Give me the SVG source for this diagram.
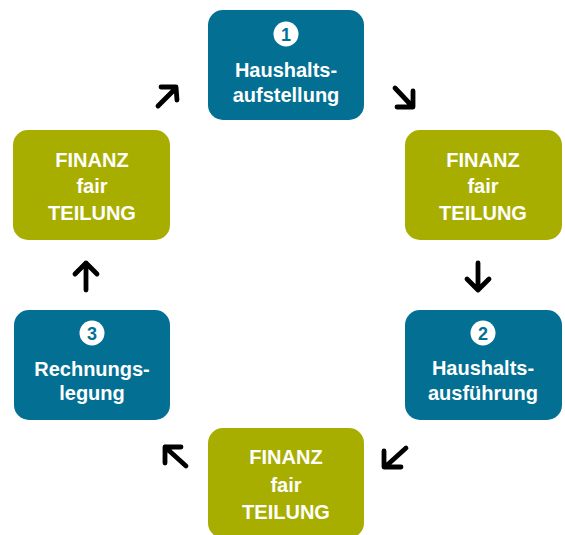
<svg xmlns="http://www.w3.org/2000/svg" width="565" height="535" viewBox="0 0 565 535">
<defs>
<style>
.blue{fill:#037093}
.green{fill:#A8AE00}
.t{font-family:"Liberation Sans",Arial,sans-serif;font-weight:bold;font-size:20px;fill:#ffffff;text-anchor:middle}
.num{font-family:"Liberation Sans",Arial,sans-serif;font-weight:bold;font-size:18px;fill:#037093;text-anchor:middle}
.arr{fill:none;stroke:#000000;stroke-width:4.8;stroke-linecap:round;stroke-linejoin:round}
</style>
</defs>
<rect width="565" height="535" fill="#ffffff"/>
<g id="node-haushaltsaufstellung">
<rect class="blue" x="208" y="10" width="156" height="110" rx="15"/>
<circle cx="286" cy="34" r="12.5" fill="#ffffff"/>
<text class="num" x="286" y="40.5">1</text>
<text class="t" x="286" y="77">Haushalts-</text>
<text class="t" x="286" y="102">aufstellung</text>
</g>
<g id="node-finanz-right">
<rect class="green" x="405" y="130" width="157" height="110" rx="15"/>
<text class="t" x="483" y="167">FINANZ</text>
<text class="t" x="483" y="193">fair</text>
<text class="t" x="483" y="220">TEILUNG</text>
</g>
<g id="node-haushaltsausfuehrung">
<rect class="blue" x="405" y="310" width="157" height="110" rx="15"/>
<circle cx="483" cy="333" r="12.5" fill="#ffffff"/>
<text class="num" x="483" y="339.5">2</text>
<text class="t" x="483" y="375">Haushalts-</text>
<text class="t" x="483" y="400">ausführung</text>
</g>
<g id="node-finanz-bottom">
<rect class="green" x="208" y="428" width="156" height="110" rx="15"/>
<text class="t" x="286" y="464">FINANZ</text>
<text class="t" x="286" y="492">fair</text>
<text class="t" x="286" y="519">TEILUNG</text>
</g>
<g id="node-rechnungslegung">
<rect class="blue" x="14" y="310" width="156" height="110" rx="15"/>
<circle cx="92" cy="333" r="12.5" fill="#ffffff"/>
<text class="num" x="92" y="339.5">3</text>
<text class="t" x="92" y="376">Rechnungs-</text>
<text class="t" x="92" y="400">legung</text>
</g>
<g id="node-finanz-left">
<rect class="green" x="13" y="130" width="157" height="110" rx="15"/>
<text class="t" x="92" y="167">FINANZ</text>
<text class="t" x="92" y="193">fair</text>
<text class="t" x="92" y="220">TEILUNG</text>
</g>
<g id="connectors">
<path class="arr" d="M158 106 L176 88 M161 87 L176 87 L177 100"/>
<path class="arr" d="M395 88 L412 106 M397 107 L413 107 L413 91"/>
<path class="arr" d="M478 263 L478 289 M467 279 L478 290 L489 279"/>
<path class="arr" d="M406 448 L385 467 M384 451 L384 467 L401 467"/>
<path class="arr" d="M186 466 L165 447 M165 463 L165 447 L181 447"/>
<path class="arr" d="M86 290 L86 263 M75 274 L86 263 L97 274"/>
</g>
</svg>
